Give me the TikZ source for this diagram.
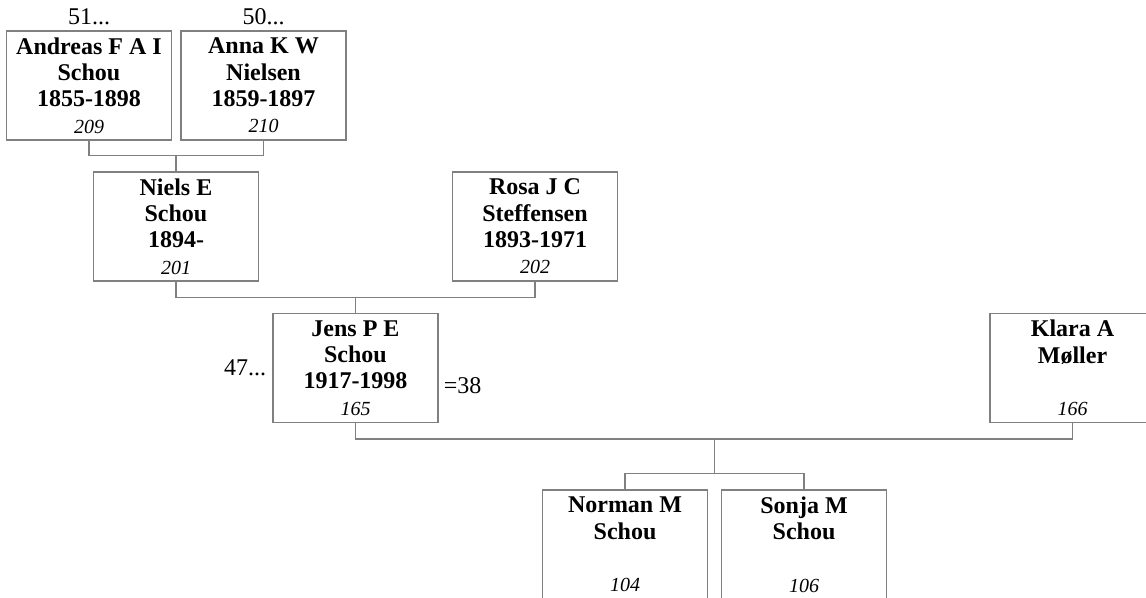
\documentclass[tikz,border=0pt]{standalone}
\usepackage{fontspec}
\setmainfont{Liberation Serif}
\usetikzlibrary{positioning, calc}
\definecolor{LineGray}{RGB}{128,128,128}
\newcommand{\personno}[1]{{\normalfont\itshape\fontsize{15}{18}\selectfont #1}}

\begin{document}
\begin{tikzpicture}[x=0.75pt, y=-0.75pt,
    person/.style={draw=LineGray, line width=0.8pt, minimum width=123.75pt, minimum height=81.75pt,
      inner sep=0pt, align=center, font=\fontsize{18}{19.75}\selectfont\bfseries},
    link/.style={LineGray, line width=0.8pt},
    tag/.style={inner sep=1pt, font=\fontsize{18}{20}\selectfont}]
  \useasboundingbox (0,0) rectangle (1146,598);
  \node[person] (andreas) at (89,85.5) {Andreas F A I\\Schou\\1855-1898\\\personno{209}};
  \node[person] (anna) at (263.5,85.5) {Anna K W\\Nielsen\\1859-1897\\\personno{210}};
  \node[person] (niels) at (176,226.5) {Niels E\\Schou\\1894-\\\personno{201}};
  \node[person] (rosa) at (535,226.5) {Rosa J C\\Steffensen\\1893-1971\\\personno{202}};
  \node[person] (jens) at (355.5,368) {Jens P E\\Schou\\1917-1998\\\personno{165}};
  \node[person] (klara) at (1072.5,368) {Klara A\\M\o ller\\\mbox{}\\\personno{166}};
  \node[person] (norman) at (625,544.5) {Norman M\\Schou\\\mbox{}\\\personno{104}};
  \node[person] (sonja) at (804,544.5) {Sonja M\\Schou\\\mbox{}\\\personno{106}};
  \node[tag, above=3pt of andreas] (andreasup) {51...};
  \node[tag, above=3pt of anna] (annaup) {50...};
  \node[tag, left=3.5pt of jens] (jensup) {47...};
  \node[tag, right=2.75pt of jens, yshift=-13.5pt] (jensmarr) {=38};
  \draw[link] (andreas.south) -- ++(0,15) coordinate (f1) -| (anna.south);
  \draw[link] (niels.north) -- (niels.north |- f1);
  \draw[link] (niels.south) -- ++(0,16) coordinate (f2) -| (rosa.south);
  \draw[link] (jens.north) -- (jens.north |- f2);
  \draw[link] (jens.south) -- ++(0,16) coordinate (f3) -| (klara.south);
  \draw[link] (norman.north) -- ++(0,-16) coordinate (k3) -| (sonja.north);
  \coordinate (kidsbar) at ($(k3)!0.5!(sonja.north |- k3)$);
  \draw[link] (kidsbar) -- (kidsbar |- f3);
\end{tikzpicture}
\end{document}
